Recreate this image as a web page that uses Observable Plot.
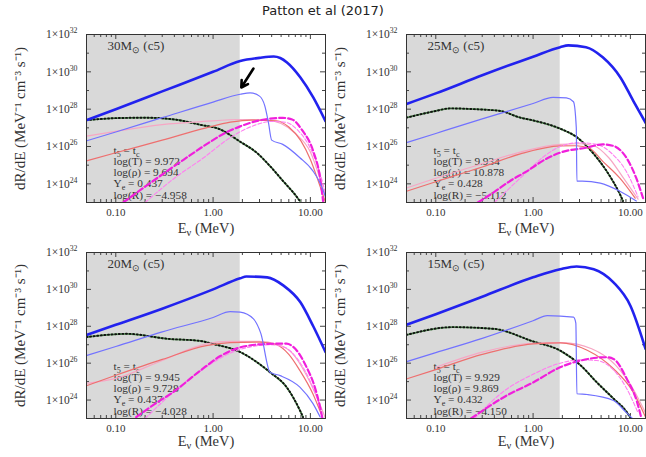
<!DOCTYPE html>
<html><head><meta charset="utf-8">
<script src="https://cdn.jsdelivr.net/npm/d3@7"></script>
<script src="https://cdn.jsdelivr.net/npm/@observablehq/plot@0.6"></script>
<style>
body{margin:0;background:#fff;}
#root{position:relative;width:646px;height:457px;overflow:hidden;background:#fff;}
#title{position:absolute;top:3px;left:0;width:646px;text-align:center;font-family:"DejaVu Sans";font-size:13px;color:#222;}
.panel{position:absolute;}
.panel svg text{font-family:"Liberation Serif",serif;}
</style></head><body>
<div id="root"><div id="title">Patton et al (2017)</div></div>
<script>
// ---- axes / layout data ----
const xRange = [0.05, 14.3];
const yRange = [1e23, 1e32];
const shadeEnd = [1.9];
const xTicks = [0.1, 1, 10];
const xMinorTicks = [0.05,0.06,0.07,0.08,0.09,0.2,0.3,0.4,0.5,0.6,0.7,0.8,0.9,2,3,4,5,6,7,8,9];
const yTicks = [1e24, 1e26, 1e28, 1e30, 1e32];
const yMinorTicks = [1e23, 1e25, 1e27, 1e29, 1e31];

// ---- panel parameters ----
const masses = [30, 25, 20, 15];
const logT   = ["9.972", "9.934", "9.945", "9.929"];
const logRho = ["9.694", "10.878", "9.728", "9.869"];
const Ye     = ["0.437", "0.428", "0.437", "0.432"];
const logR   = ["−4.958", "−5.112", "−4.028", "−4.150"];
const arrowFrom = [2.6, 1.5e30];
const arrowTo   = [1.95, 1.45e29];

// ---- 30 Msun ----
const m30_total = [[0.05,2.6e27],[0.1,1.0e28],[0.3,9e28],[1,1.0e30],[1.9,3.8e30],[3,5.6e30],[4.2,6.6e30],[4.9,5.5e30],[5.75,3.2e30],[7.9,5e29],[10.7,4.3e28],[14.3,2.3e27]];
const m30_thin  = [[0.05,2e26],[0.1,6e26],[0.3,3.5e27],[1,2.4e28],[1.9,6.3e28],[2.4,7.5e28],[3.0,5e28],[3.4,1.5e28],[3.7,2e27],[4.0,2.2e26],[5.2,1.3e26],[7.8,2.5e25],[10.6,5e24],[12.6,1.1e24],[14.3,2e23]];
const m30_dot   = [[0.05,2.6e27],[0.1,3.3e27],[0.2,3.5e27],[0.4,2.8e27],[0.74,1.45e27],[1.18,8.3e26],[1.9,1.8e26],[2.8,4.7e25],[3.85,8.9e24],[5.25,1.4e24],[7.2,2.1e23],[7.8,1.2e23]];
const m30_red   = [[0.05,1.7e25],[0.1,4.6e25],[0.3,2.2e26],[0.85,1e27],[1.5,2.0e27],[2.5,2.6e27],[4.5,2.4e27],[6,1.1e27],[8,2e26],[10,2e25],[12,1.5e24],[14.3,1e23]];
const m30_pink  = [[0.05,3.6e26],[0.1,6.5e26],[0.3,1.5e27],[0.8,2.2e27],[2,2.8e27],[3.5,2.6e27],[5,1.7e27],[7,5e26],[10,5e25],[12.5,2e24],[14.3,2e23]];
const m30_magA  = [[0.119,1e23],[0.2,7e23],[0.34,5e24],[0.5,2e25],[0.85,1.3e26],[1.3,5e26],[1.9,1.2e27],[3,2.5e27],[5.2,3.4e27],[6.5,2.8e27],[8.3,7e26],[10.7,5.6e25],[12.6,2e24],[13.5,1.2e23]];
const m30_magB  = [[0.2,1e23],[0.4,2e24],[0.8,2.5e25],[1.5,3e26],[2.5,1.2e27],[4,2.2e27],[5.5,2e27],[7.5,7e26],[10,8e25],[12.5,4e24],[14.3,3e23]];

// ---- 25 Msun ----
const m25_total = [[0.05,1.9e28],[0.1,7e28],[0.3,6.5e29],[1,6.5e30],[1.9,2.1e31],[2.3,2.6e31],[3.5,2.1e31],[5.2,6e30],[7.9,5e29],[10.7,2.8e28],[14.3,1.9e27]];
const m25_thin  = [[0.05,1.6e26],[0.1,5e26],[0.3,3e27],[1,2e28],[1.6,4.3e28],[2.2,4e28],[2.6,2.5e28],[2.78,1e27],[2.82,1.4e24],[3.2,1.4e24],[4.9,1.1e24],[7.8,4e23],[11.5,1.2e23]];
const m25_dot   = [[0.05,3.5e27],[0.1,8e27],[0.14,1.1e28],[0.25,1e28],[0.46,8e27],[0.74,3.5e27],[1.0,2.5e27],[1.9,9e26],[2.8,3.2e26],[4.2,4e25],[5.7,4.8e24],[7.8,2.8e23],[8.4,1.2e23]];
const m25_red   = [[0.05,4e23],[0.1,1.3e24],[0.3,8e24],[0.74,4e25],[1.9,1.07e26],[2.8,1.1e26],[3.8,8e25],[5.2,1.6e25],[7.8,2e24],[11.2,1.7e23]];
const m25_pink  = [[0.05,6e23],[0.1,2e24],[0.3,1.2e25],[0.74,5e25],[1.9,1.3e26],[3,1.4e26],[4.2,1.1e26],[6,2.5e25],[8.5,2e24],[12,1.5e23]];
const m25_magA  = [[0.27,1e23],[0.4,3.7e23],[0.6,1.6e24],[0.85,4.5e24],[1.3,1.9e25],[1.9,4.7e25],[3.55,8.7e25],[5.2,1.3e26],[6.6,1.1e26],[9.1,2.5e25],[11.5,2e24],[13.5,1.7e23]];
const m25_magB  = [[0.4,1e23],[0.8,3e24],[1.3,3e25],[1.9,1e26],[3,1.6e26],[4.5,1.3e26],[6.5,4e25],[9,5e24],[12,2e23]];

// ---- 20 Msun ----
const m20_total = [[0.05,3.4e27],[0.1,1.2e28],[0.3,9e28],[1,1e30],[1.9,4e30],[2.2,5e30],[3.6,4.5e30],[5.3,1.6e30],[7.9,2e29],[10.7,1e28],[14.3,4e26]];
const m20_thin  = [[0.05,2.6e26],[0.1,8e26],[0.3,5e27],[1,3e28],[1.5,6.2e28],[1.9,5.8e28],[2.6,2.5e28],[3.1,4e27],[3.85,3.2e25],[4.9,2.1e25],[7.8,5e24],[10.6,6.6e23],[12.6,1.2e23]];
const m20_dot   = [[0.05,2.6e27],[0.13,3.9e27],[0.34,2.1e27],[0.74,1.6e27],[1,1.1e27],[1.9,4e26],[3.85,3.2e25],[5.7,5e24],[7.8,2.8e23],[8.4,1.2e23]];
const m20_red   = [[0.05,6e24],[0.1,2.2e25],[0.3,1.6e26],[0.85,9e26],[1.5,1.3e27],[3,1.4e27],[4.5,1e27],[6,3e26],[7.8,4e25],[10.6,2.2e24],[12.9,1.8e23]];
const m20_pink  = [[0.05,8e24],[0.1,1.5e25],[0.3,1.4e26],[0.85,1.1e27],[1.5,1.5e27],[3,1.5e27],[4.5,1.1e27],[6.5,3.5e26],[9,2.5e25],[12,1e24],[14.3,1e23]];
const m20_magA  = [[0.162,1.2e23],[0.25,6e23],[0.4,3e24],[0.74,4e25],[1.2,2.5e26],[1.9,7.2e26],[3.55,1.1e27],[5.7,1.15e27],[6.6,8e26],[9.1,6.3e25],[11.1,5e24],[12.6,4e23],[13.3,1e23]];
const m20_magB  = [[0.2,1e23],[0.4,3e24],[0.8,5e25],[1.5,3.5e26],[2.5,8e26],[4,1e27],[5.5,7e26],[7.5,1.5e26],[10,1e25],[13,3e23]];

// ---- 15 Msun ----
const m15_total = [[0.05,1.2e28],[0.1,4.5e28],[0.3,4e29],[1,4.5e30],[1.9,1.25e31],[2.8,1.75e31],[4.2,1.25e31],[6.7,2.4e30],[10,1.3e29],[14.3,6e26]];
const m15_thin  = [[0.05,1.2e26],[0.1,3.7e26],[0.3,2.2e27],[1,2e28],[1.4,3.8e28],[2.6,3.1e28],[2.75,1.5e28],[2.82,2.2e24],[3.6,2e24],[6.7,9.5e23],[9,2.2e23],[10.5,1e23]];
const m15_dot   = [[0.05,3.4e27],[0.15,9e27],[0.4,7.2e27],[1,1.5e27],[1.9,4.8e26],[3.1,7.4e25],[4.5,9.3e24],[6.7,1.2e24],[9.2,2.2e23],[10,1.1e23]];
const m15_red   = [[0.05,1.4e25],[0.1,4.5e25],[0.3,3e26],[1,1.1e27],[1.9,1.25e27],[3.6,5e26],[6.7,5e25],[10.7,2.7e24],[14.3,1.2e23]];
const m15_pink  = [[0.1,6e25],[0.3,4e26],[1,1.2e27],[2,1.3e27],[4,6e26],[7,8e25],[11,3e24],[14.3,2e23]];
const m15_magA  = [[0.23,1e23],[0.54,1.8e24],[1,9e24],[1.9,6e25],[3.1,1.4e26],[5.7,2.1e26],[6.7,1.7e26],[9.2,1.4e25],[11.7,8e23],[13,1e23]];
const m15_magB  = [[0.25,1e23],[0.5,3e24],[1,2.5e25],[1.9,1e26],[3,1.5e26],[4.5,1.4e26],[6.5,5e25],[9,5e24],[12,2e23]];

const panels = [
  {series:[m30_total,m30_thin,m30_dot,m30_red,m30_pink,m30_magA,m30_magB], box:{left:0,  top:24,  width:327, height:215, mb:37, mr:2, lo:30}},
  {series:[m25_total,m25_thin,m25_dot,m25_red,m25_pink,m25_magA,m25_magB], box:{left:320,top:24,  width:326, height:215, mb:37, mr:1, lo:30}},
  {series:[m20_total,m20_thin,m20_dot,m20_red,m20_pink,m20_magA,m20_magB], box:{left:0,  top:242, width:327, height:215, mb:39, mr:2, lo:27}},
  {series:[m15_total,m15_thin,m15_dot,m15_red,m15_pink,m15_magA,m15_magB], box:{left:320,top:242, width:326, height:215, mb:39, mr:1, lo:27}}
];

const fmtY = d => "1×10^{" + Math.round(Math.log10(d)) + "}";
const SERIF = "Liberation Serif";

// turn _{..} into subscripts and ^{..} into superscripts
function scripts(root){
  root.querySelectorAll("text, tspan").forEach(el => {
    if (el.children.length) return;
    const s = el.textContent;
    if (!/[_^]\{/.test(s)) return;
    el.textContent = "";
    const re = /([_^])\{([^}]*)\}/g; let last = 0, m;
    while ((m = re.exec(s))) {
      if (m.index > last) el.appendChild(document.createTextNode(s.slice(last, m.index)));
      const t = document.createElementNS("http://www.w3.org/2000/svg", "tspan");
      t.setAttribute("baseline-shift", m[1] === "_" ? "-2.5px" : "5px");
      t.setAttribute("font-size", m[1] === "_" ? "72%" : "68%");
      t.textContent = m[2];
      el.appendChild(t);
      last = re.lastIndex;
    }
    if (last < s.length) el.appendChild(document.createTextNode(s.slice(last)));
  });
}

function makePanel(i){
  const {series, box} = panels[i];
  const [total, thin, dot, red, pink, magA, magB] = series;
  const mt = 10, ml = 86;
  const ph = box.height - mt - box.mb, pw = box.width - ml - box.mr;
  const ln = (data, o) => Plot.line(data, {x: d => d[0], y: d => d[1], curve: "monotone-x", clip: true, ...o});
  const info = [`t_{5} = t_{c}`, `log(T) = ${logT[i]}`, `log(ρ) = ${logRho[i]}`, `Y_{e} = ${Ye[i]}`, `log(R) = ${logR[i]}`].join("\n");
  const marks = [
    Plot.rect([{x1: xRange[0], x2: shadeEnd[0], y1: yRange[0], y2: yRange[1]}], {x1: "x1", x2: "x2", y1: "y1", y2: "y2", fill: "#d9d9d9"}),
    Plot.tickX(xTicks, {x: d => d, insetTop: ph - 5, stroke: "#444"}),
    Plot.tickX(xTicks, {x: d => d, insetBottom: ph - 5, stroke: "#444"}),
    Plot.tickX(xMinorTicks, {x: d => d, insetTop: ph - 3, stroke: "#444"}),
    Plot.tickX(xMinorTicks, {x: d => d, insetBottom: ph - 3, stroke: "#444"}),
    Plot.tickY(yTicks, {y: d => d, insetRight: pw - 5, stroke: "#444"}),
    Plot.tickY(yTicks, {y: d => d, insetLeft: pw - 5, stroke: "#444"}),
    Plot.tickY(yMinorTicks, {y: d => d, insetRight: pw - 3, stroke: "#444"}),
    Plot.tickY(yMinorTicks, {y: d => d, insetLeft: pw - 3, stroke: "#444"}),
    Plot.text([info], {text: d => d, frameAnchor: "bottom-left", textAnchor: "start", lineAnchor: "bottom", dx: 27, dy: -4, fontSize: 11.3, lineHeight: 0.98, fill: "#333", fontFamily: SERIF}),
    Plot.text([`${masses[i]}M_{⊙} (c5)`], {text: d => d, frameAnchor: "top-left", textAnchor: "start", lineAnchor: "top", dx: 21, dy: 6, fontSize: 13, fill: "#333", fontFamily: SERIF}),
    ln(dot, {stroke: "#5a9a5a", strokeWidth: 1.8}),
    ln(dot, {stroke: "#111", strokeWidth: 1.9, strokeDasharray: "1,2.6"}),
    ln(pink, {stroke: "#f7a6c4", strokeWidth: 1.2}),
    ln(red, {stroke: "#ee6f6f", strokeWidth: 1.2}),
    ln(magB, {stroke: "#ff7ff0", strokeWidth: 1.1, strokeDasharray: "4,2"}),
    ln(magA, {stroke: "#f01fdc", strokeWidth: 2.2, strokeDasharray: "6,3"}),
    ln(thin, {stroke: "#7272ff", strokeWidth: 1.2}),
    ln(total, {stroke: "#2222ee", strokeWidth: 2.6}),
    Plot.frame({stroke: "#333", strokeWidth: 1}),
    Plot.axisX({ticks: xTicks, tickFormat: d => d.toFixed(2), tickSize: 0, tickPadding: 6, fontSize: 11, fontFamily: SERIF, label: "E_{ν} (MeV)", labelAnchor: "center", labelOffset: box.lo, labelArrow: "none"}),
    Plot.axisY({ticks: yTicks, tickFormat: fmtY, tickSize: 0, tickPadding: 9, fontSize: 11.5, fontFamily: SERIF, label: "dR/dE (MeV⁻¹ cm⁻³ s⁻¹)", labelAnchor: "center", labelOffset: 72, labelArrow: "none"})
  ];
  if (i === 0) {
    marks.push(Plot.arrow([{x1: arrowFrom[0], y1: arrowFrom[1], x2: arrowTo[0], y2: arrowTo[1]}], {x1: "x1", y1: "y1", x2: "x2", y2: "y2", stroke: "#000", strokeWidth: 2.6, headLength: 9}));
  }
  const svg = Plot.plot({
    width: box.width, height: box.height,
    marginLeft: ml, marginRight: box.mr, marginTop: mt, marginBottom: box.mb,
    style: {fontFamily: SERIF, background: "transparent", color: "#333", overflow: "visible"},
    x: {type: "log", domain: xRange},
    y: {type: "log", domain: yRange},
    marks
  });
  scripts(svg);
  const xl = svg.querySelector('[aria-label="x-axis label"]');
  if (xl) xl.setAttribute("font-size", "14.5");
  const yl = svg.querySelector('[aria-label="y-axis label"]');
  if (yl) yl.setAttribute("font-size", "15");
  const div = document.createElement("div");
  div.className = "panel";
  div.style.left = box.left + "px";
  div.style.top = box.top + "px";
  div.appendChild(svg);
  document.getElementById("root").appendChild(div);
}
[0, 1, 2, 3].forEach(makePanel);
</script>
</body></html>
